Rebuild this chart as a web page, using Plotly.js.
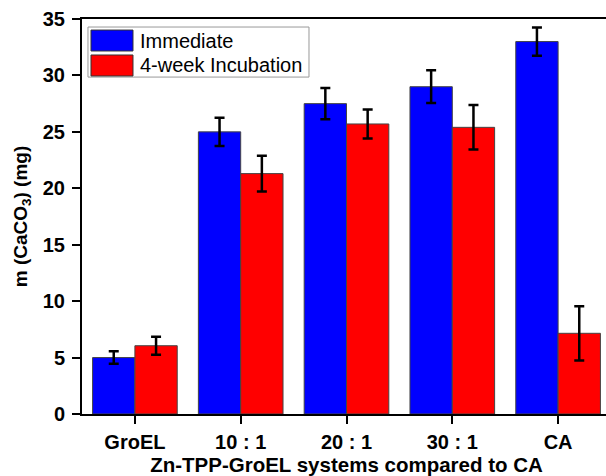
<!DOCTYPE html>
<html>
<head>
<meta charset="utf-8">
<script src="https://cdn.plot.ly/plotly-3.0.1.min.js"></script>
<style>
html, body { margin: 0; padding: 0; overflow: hidden; background: #fff; }
#chart { width: 611px; height: 476px; }
</style>
</head>
<body>
<div id="chart"></div>
<script>
const categories = ['GroEL', '10 : 1', '20 : 1', '30 : 1', 'CA'];
const immediate = [5.0, 25.0, 27.5, 29.0, 33.0];
const immediateErr = [0.55, 1.26, 1.39, 1.45, 1.25];
const incubation = [6.05, 21.3, 25.7, 25.4, 7.15];
const incubationErr = [0.8, 1.58, 1.29, 1.97, 2.4];
const seriesNames = ['Immediate', '4-week Incubation'];
const yTicks = [0, 5, 10, 15, 20, 25, 30, 35];

const FONT = '"Liberation Sans", Arial, sans-serif';

const errStyle = { type: 'data', visible: true, color: '#000', thickness: 2.5, width: 5 };

const traces = [
  {
    type: 'bar', x: categories, y: immediate, name: seriesNames[0],
    marker: { color: '#0000FF', line: { color: '#444', width: 1 } },
    error_y: Object.assign({ array: immediateErr }, errStyle)
  },
  {
    type: 'bar', x: categories, y: incubation, name: seriesNames[1],
    marker: { color: '#FF0000', line: { color: '#444', width: 1 } },
    error_y: Object.assign({ array: incubationErr }, errStyle)
  }
];

const layout = {
  width: 611, height: 476,
  margin: { l: 82, r: 0, t: 19, b: 62 },
  paper_bgcolor: '#fff', plot_bgcolor: '#fff',
  showlegend: false,
  barmode: 'group', bargap: 0.2, bargroupgap: 0,
  font: { family: FONT, color: '#000' },
  xaxis: {
    type: 'category', range: [-0.5, 4.5],
    showline: true, linecolor: '#000', linewidth: 2, mirror: true,
    ticks: 'outside', ticklen: 8, tickwidth: 2, tickcolor: '#000',
    tickfont: { family: FONT, size: 20, color: '#000', weight: 'bold' },
    ticklabelstandoff: 1,
    showgrid: false, zeroline: false,
    title: { text: '<b>Zn-TPP-GroEL systems compared to CA</b>', font: { family: FONT, size: 20.5, color: '#000' }, standoff: 7 }
  },
  xaxis2: {
    overlaying: 'x', anchor: 'y', type: 'linear', range: [-0.5, 4.5],
    tick0: 0.5, dtick: 1, ticks: 'outside', ticklen: 5, tickwidth: 2, tickcolor: '#000',
    showticklabels: false, showgrid: false, zeroline: false, showline: false
  },
  yaxis: {
    range: [0, 35], tickvals: yTicks,
    showline: true, linecolor: '#000', linewidth: 2, mirror: true,
    ticks: 'outside', ticklen: 8, tickwidth: 2, tickcolor: '#000',
    tickfont: { family: FONT, size: 20, color: '#000', weight: 'bold' },
    ticklabelstandoff: 3,
    showgrid: false, zeroline: false,
    title: { text: '<b>m (CaCO<sub>3</sub>) (mg)</b>', font: { family: FONT, size: 19, color: '#000' }, standoff: 10 }
  },
  shapes: [
    { type: 'rect', xref: 'paper', yref: 'paper', x0: 0.0113, x1: 0.4291, y0: 0.853, y1: 0.9797, line: { color: '#999', width: 1 }, fillcolor: 'rgba(255,255,255,0)' },
    { type: 'rect', xref: 'paper', yref: 'paper', x0: 0.0170, x1: 0.0964, y0: 0.919, y1: 0.972, line: { color: '#333', width: 1 }, fillcolor: '#0000FF' },
    { type: 'rect', xref: 'paper', yref: 'paper', x0: 0.0170, x1: 0.0964, y0: 0.8557, y1: 0.9089, line: { color: '#333', width: 1 }, fillcolor: '#FF0000' }
  ],
  annotations: [
    { xref: 'paper', yref: 'paper', x: 0.1060, y: 0.9455, xanchor: 'left', yanchor: 'middle', showarrow: false, text: seriesNames[0], font: { family: FONT, size: 20, color: '#000' } },
    { xref: 'paper', yref: 'paper', x: 0.1060, y: 0.8823, xanchor: 'left', yanchor: 'middle', showarrow: false, text: seriesNames[1], font: { family: FONT, size: 20, color: '#000' } }
  ]
};

Plotly.newPlot('chart', traces, layout, { displayModeBar: false, staticPlot: true });
</script>
</body>
</html>
